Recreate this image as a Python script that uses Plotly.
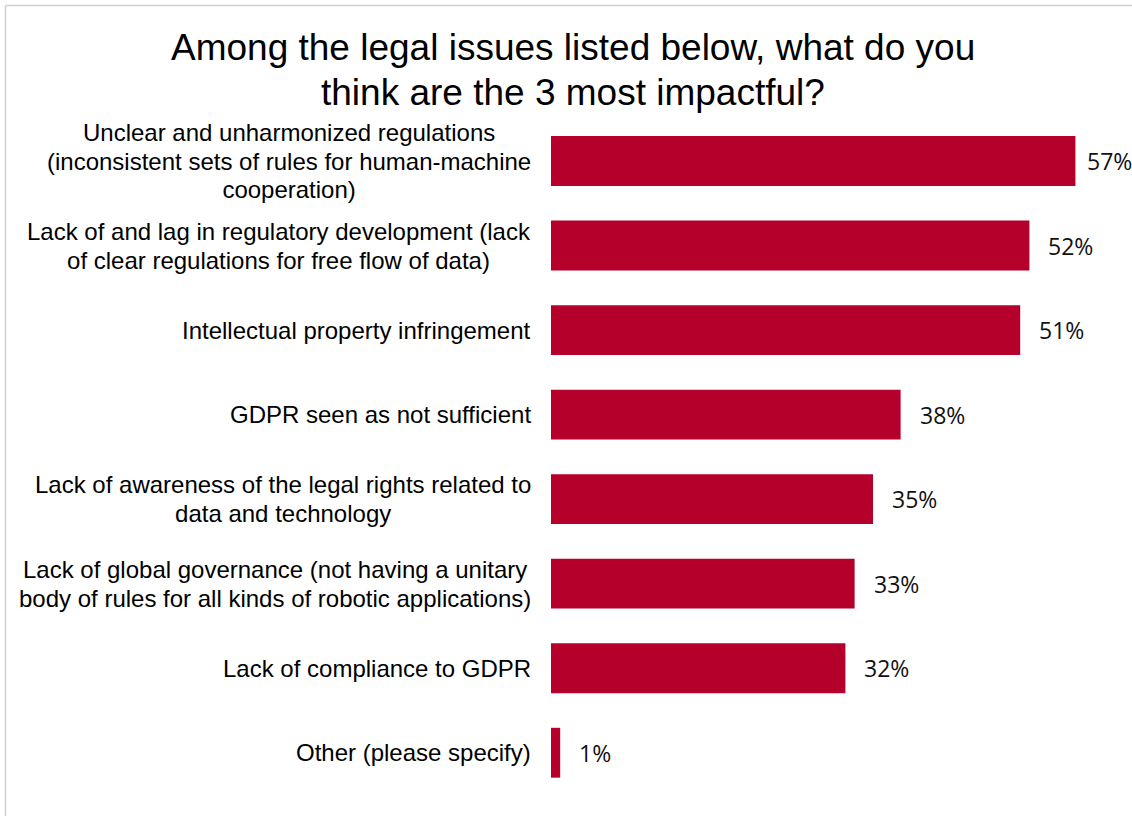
import plotly.graph_objects as go

# Survey results: share of respondents naming each legal issue among their top 3
categories = [
    "Unclear and unharmonized regulations<br>(inconsistent sets of rules for human-machine<br>cooperation)",
    "Lack of and lag in regulatory development (lack<br>of clear regulations for free flow of data)",
    "Intellectual property infringement",
    "GDPR seen as not sufficient",
    "Lack of awareness of the legal rights related to<br>data and technology",
    "Lack of global governance (not having a unitary<br>body of rules for all kinds of robotic applications)",
    "Lack of compliance to GDPR",
    "Other (please specify)",
]
values = [57, 52, 51, 38, 35, 33, 32, 1]
value_labels = [f"{v}%" for v in values]

title_lines = [
    "Among the legal issues listed below, what do you",
    "think are the 3 most impactful?",
]

BAR_COLOR = "#B4002A"
W, H = 1132, 816
M_L, M_R, M_T, M_B = 551, 0, 117, 21
X_MAX = 63.15
PW = W - M_L - M_R
PH = H - M_T - M_B


def paper_x(px):
    return (px - M_L) / PW


def paper_y(py):
    return (H - M_B - py) / PH


fig = go.Figure(
    go.Bar(
        x=values,
        y=categories,
        orientation="h",
        marker=dict(color=BAR_COLOR, line=dict(width=0)),
        width=0.59,
        hoverinfo="skip",
    )
)

# category labels: centred lines, right edge a little left of the bars
for cat in categories:
    fig.add_annotation(
        x=0, y=cat, xref="paper", yref="y",
        text=f'<span style="font-size:24px">{cat}</span>',
        showarrow=False, align="center",
        xanchor="right", yanchor="middle", xshift=-18,
        font=dict(family="Liberation Sans", size=22, color="#000000"),
    )

# value labels just beyond the end of each bar; the longest bar's label is
# tucked in slightly so it stays inside the canvas
top = max(values)
for cat, v, lab in zip(categories, values, value_labels):
    fig.add_annotation(
        x=v, y=cat, xref="x", yref="y",
        text=lab, showarrow=False,
        xanchor="left", yanchor="middle", xshift=10 if v == top else 17,
        font=dict(family="Open Sans", size=23, color="#111111"),
    )

# two-line title
for line, py in zip(title_lines, [48, 93]):
    fig.add_annotation(
        x=paper_x(573), y=paper_y(py), xref="paper", yref="paper",
        text=line, showarrow=False,
        xanchor="center", yanchor="middle",
        font=dict(family="Liberation Sans", size=37, color="#000000"),
    )

# thin frame along the left and top edges
px0 = paper_x(5.5)
py0 = paper_y(5.5)
fig.add_shape(type="line", xref="paper", yref="paper",
              x0=px0, x1=px0, y0=py0, y1=-0.1,
              line=dict(color="#D0D0D0", width=1.5))
fig.add_shape(type="line", xref="paper", yref="paper",
              x0=px0, x1=1.1, y0=py0, y1=py0,
              line=dict(color="#D0D0D0", width=1.5))

fig.update_layout(
    width=W, height=H,
    margin=dict(l=M_L, r=M_R, t=M_T, b=M_B),
    paper_bgcolor="white", plot_bgcolor="white",
    showlegend=False,
    xaxis=dict(range=[0, X_MAX], visible=False, fixedrange=True),
    yaxis=dict(
        autorange="reversed", showticklabels=False,
        showgrid=False, zeroline=False, showline=False, ticks="",
    ),
)

fig.write_html("out.html")
